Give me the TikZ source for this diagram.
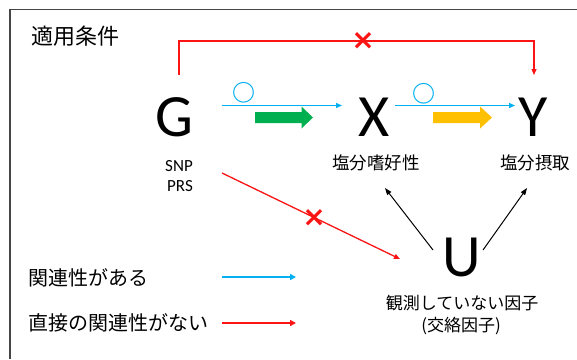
\documentclass[tikz,border=0pt]{standalone}
\usepackage{fontspec}
\setmainfont{Carlito}
\newfontfamily\jp{Noto Sans CJK JP}
\newfontfamily\dv{DejaVu Sans}
\usetikzlibrary{arrows.meta}
\definecolor{ablue}{RGB}{0,176,240}
\definecolor{ared}{RGB}{250,20,20}
\definecolor{agreen}{RGB}{0,176,80}
\definecolor{ayellow}{RGB}{255,192,0}
\definecolor{framec}{RGB}{70,70,70}
\begin{document}
\begin{tikzpicture}[x=1pt,y=-1pt,
  every node/.style={inner sep=0pt, outer sep=0pt},
  big/.style={font=\fontsize{60}{60}\selectfont},
  latin/.style={font=\fontsize{17}{20}\selectfont},
  lbl/.style={font=\jp\fontsize{17.5}{20}\selectfont},
  lbls/.style={font=\jp\fontsize{17}{20}\selectfont},
  legtext/.style={font=\jp\fontsize{20}{22}\selectfont, anchor=west},
  bluearr/.style={draw=ablue, line width=1.3pt, -{Triangle[length=6pt,width=5pt]}},
  redarr/.style={draw=ared, line width=1.3pt, -{Triangle[length=6pt,width=5pt]}},
  legarr/.style={line width=2pt, -{Triangle[length=6pt,width=6pt]}},
  blackarr/.style={draw=black, line width=1pt, -{Triangle[length=7pt,width=5pt]}},
  xmk/.style={text=ared, font=\dv\bfseries\fontsize{28}{28}\selectfont},
  omk/.style={text=ablue, font=\jp\bfseries\fontsize{23}{23}\selectfont},
]
\useasboundingbox (0,0) rectangle (577,359);
\fill[white] (0,0) rectangle (577,359);
\draw[framec, line width=1.6pt] (10,359) -- (10,9.5) -- (577,9.5);

% title
\node[font=\jp\fontsize{22}{24}\selectfont] (title) at (75,36) {適用条件};

% main letters
\node[big] (G) at (174.5,117.5) {G};
\node[big] (X) at (374,117.5) {X};
\node[big] (Y) at (533,117.5) {Y};
\node[big] (U) at (462,257.5) {U};

% labels
\node[latin] (snp) at (179,166) {SNP};
\node[latin] (prs) at (180,186) {PRS};
\node[lbl] (xl) at (376,163) {塩分嗜好性};
\node[lbl] (yl) at (535,163) {塩分摂取};
\node[lbls] (ul1) at (462,303.5) {観測していない因子};
\node[lbls] (ul2) at (461,326) {(交絡因子)};

% blue arrows
\coordinate (gx1) at (222,105.5);
\coordinate (gx2) at (342,105.5);
\coordinate (xy1) at (395,105.5);
\coordinate (xy2) at (515,105.5);
\draw[bluearr] (gx1) -- (gx2);
\draw[bluearr] (xy1) -- (xy2);
\node[omk] (o1) at (244,93) {○};
\node[omk] (o2) at (424,93.5) {○};

% thick arrows
\fill[agreen] (255,112) -- (301.5,112) -- (301.5,106.5) -- (313,117.5) -- (301.5,128.5) -- (301.5,123) -- (255,123) -- cycle;
\fill[ayellow] (433,112) -- (480,112) -- (480,106.5) -- (492,117.5) -- (480,128.5) -- (480,123) -- (433,123) -- cycle;

% red top connector
\coordinate (gtop) at (179,75);
\coordinate (corner) at (534,41);
\coordinate (ytop) at (534,75);
\draw[redarr] (gtop) |- (corner) -- (ytop);
\node[xmk] (x1) at (363,41) {×};

% red diagonal
\coordinate (d1) at (222,173);
\coordinate (d2) at (400,259);
\draw[redarr] (d1) -- (d2);
\node[xmk] (x2) at (314,218) {×};

% black arrows from U
\coordinate (ua) at (433,250);
\coordinate (ub) at (385,188);
\coordinate (uc) at (483,250);
\coordinate (ud) at (527,188);
\draw[blackarr] (ua) -- (ub);
\draw[blackarr] (uc) -- (ud);

% legend
\node[legtext] (leg1) at (28,278) {関連性がある};
\node[legtext] (leg2) at (28,323) {直接の関連性がない};
\coordinate (la1) at (222,277);
\coordinate (la2) at (296,277);
\coordinate (lb1) at (222,323);
\coordinate (lb2) at (296,323);
\draw[legarr, draw=ablue] (la1) -- (la2);
\draw[legarr, draw=ared] (lb1) -- (lb2);
\end{tikzpicture}
\end{document}
